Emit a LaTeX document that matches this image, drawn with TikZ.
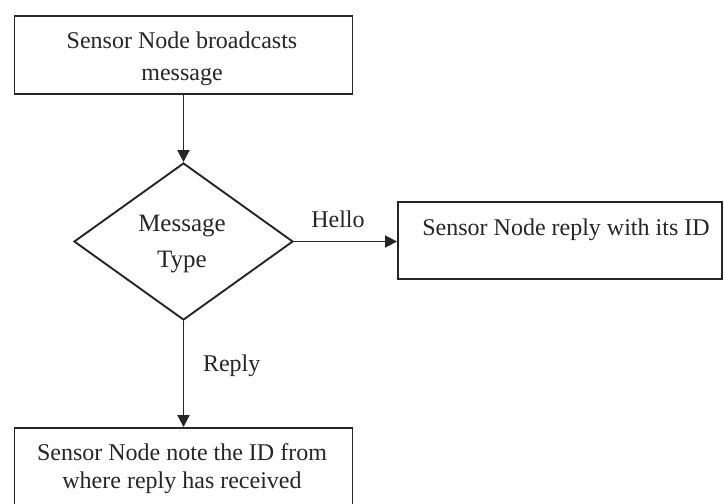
\documentclass[tikz,border=0pt]{standalone}
\usepackage{fontspec}
\setmainfont{Liberation Serif}
\usetikzlibrary{shapes.geometric,arrows.meta}
\definecolor{ink}{HTML}{262626}
\begin{document}
\begin{tikzpicture}[x=1pt,y=-1pt,
  box/.style={draw=ink, line width=1.9pt, inner sep=0pt},
  txt/.style={anchor=base, align=center, inner sep=0pt, text=ink},
  flow/.style={draw=ink, line width=1.9pt, -{Triangle[length=12pt,width=12pt]}},
  lbl/.style={anchor=base, inner sep=0pt, text=ink, font=\fontsize{24}{28}\selectfont}]
\useasboundingbox (0,0) rectangle (724,504);
\fill[white] (0,0) rectangle (724,504);

% process boxes and the decision
\node[box, minimum width=338pt, minimum height=78pt] (start) at (183.5,55) {};
\node[box, diamond, minimum width=219pt, minimum height=157pt] (dec) at (183.5,241.5) {};
\node[box, minimum width=324pt, minimum height=77pt] (reply) at (560,240.5) {};
\node[box, minimum width=338pt, minimum height=112pt] (note) at (183.5,484) {};

% texts (base anchor sits on the last line)
\node[txt, font=\fontsize{24}{32.5}\selectfont] (startt) at (182,80.8) {Sensor Node broadcasts\\message};
\node[txt, font=\fontsize{25}{35.6}\selectfont] (dect) at (182,267.3) {Message\\Type};
\node[txt, font=\fontsize{24}{28}\selectfont] (replyt) at (566,235) {Sensor Node reply with its ID};
\node[txt, font=\fontsize{24}{27.6}\selectfont] (notet) at (182,488.1) {Sensor Node note the ID from\\where reply has received};

% connectors
\draw[flow] (start.south) -- (dec.north);
\draw[flow] (dec.east) -- (reply.west |- dec.east);
\draw[flow] (dec.south) -- (note.north);

% branch labels
\node[lbl] (hello) at (338,227) {Hello};
\node[lbl] (rep) at (231.7,371) {Reply};
\end{tikzpicture}
\end{document}
